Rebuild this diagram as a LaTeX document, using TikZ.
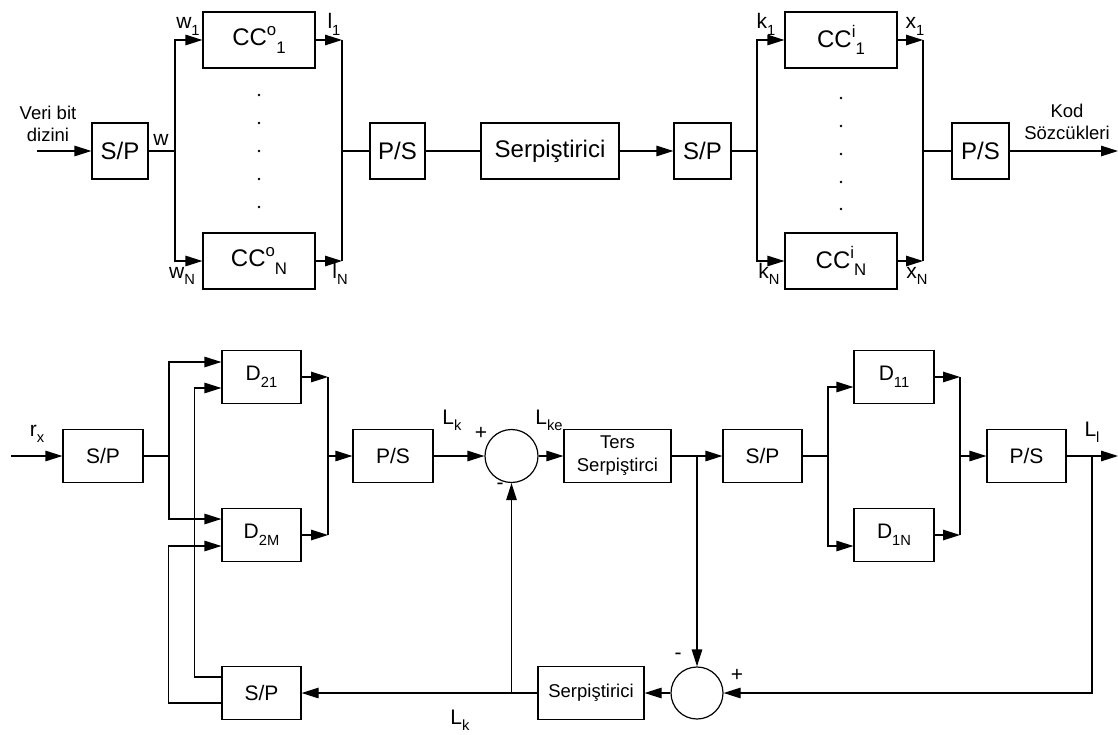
\documentclass[tikz,border=0pt]{standalone}
\usepackage{fontspec}
\setmainfont{Liberation Sans}
\usetikzlibrary{arrows.meta}

\newcommand{\lo}[1]{\raisebox{-0.32em}{\scalebox{0.7}{#1}}}
\newcommand{\hi}[1]{\raisebox{0.42em}{\scalebox{0.7}{#1}}}

\tikzset{
  blk/.style={draw, line width=1.2pt, inner sep=0pt, minimum height=56pt,
    font=\fontsize{24}{28}\selectfont},
  blkb/.style={draw, line width=1.2pt, inner sep=0pt, minimum height=53pt,
    font=\fontsize{21}{25}\selectfont},
  sumc/.style={draw, circle, line width=1.2pt, inner sep=0pt, minimum size=53pt},
  lbl/.style={font=\fontsize{21}{25}\selectfont, inner sep=0pt},
  note/.style={font=\fontsize{18.5}{22}\selectfont, align=center, inner sep=0pt},
  sig/.style={-{Triangle[length=17pt,width=10.5pt]}},
}

\begin{document}
\begin{tikzpicture}[x=1pt, y=-1pt, line width=1.2pt]
  \useasboundingbox (0,0) rectangle (1118,735);

  % upper chain: encoder
  \node[blk, minimum width=56pt]  (sp1)   at (120,151)   {S/P};
  \node[blk, minimum width=112pt] (cco1)  at (259,40)    {CC\hi{o}\lo{1}};
  \node[blk, minimum width=112pt] (ccoN)  at (259,261)   {CC\hi{o}\lo{N}};
  \node[blk, minimum width=55pt]  (ps1)   at (397.5,151) {P/S};
  \node[blk, minimum width=138pt] (serp1) at (550,151)   {Serpiştirici};
  \node[blk, minimum width=57pt]  (sp2)   at (702.5,151) {S/P};
  \node[blk, minimum width=112pt] (cci1)  at (841,40)    {CC\hi{i}\lo{1}};
  \node[blk, minimum width=112pt] (cciN)  at (841,261)   {CC\hi{i}\lo{N}};
  \node[blk, minimum width=57pt]  (ps2)   at (980.5,151) {P/S};

  \coordinate (in1)  at (37,151);
  \coordinate (b1)   at (175,151);
  \coordinate (b2)   at (342,151);
  \coordinate (b2i)  at (757,151);
  \coordinate (b2o)  at (923,151);
  \coordinate (out1) at (1118,151);

  \draw[sig] (in1) -- (sp1);
  \draw (sp1) -- (b1);
  \draw[sig] (b1) |- (cco1.west);
  \draw[sig] (b1) |- (ccoN.west);
  \draw[sig] (cco1.east) -- (cco1.east -| b2);
  \draw[sig] (ccoN.east) -- (ccoN.east -| b2);
  \draw (cco1.east -| b2) -- (ccoN.east -| b2);
  \draw (b2) -- (ps1);
  \draw (ps1) -- (serp1);
  \draw[sig] (serp1) -- (sp2);
  \draw (sp2) -- (b2i);
  \draw[sig] (b2i) |- (cci1.west);
  \draw[sig] (b2i) |- (cciN.west);
  \draw[sig] (cci1.east) -- (cci1.east -| b2o);
  \draw[sig] (cciN.east) -- (cciN.east -| b2o);
  \draw (cci1.east -| b2o) -- (cciN.east -| b2o);
  \draw (b2o) -- (ps2);
  \draw[sig] (ps2) -- (out1);

  \foreach \y in {95,123,151,179,207}
    \fill (259,\y) circle (1.4pt);
  \foreach \y in {98,126,154,182,209}
    \fill (841,\y) circle (1.4pt);

  \node[note] (lveri) at (48,123.5) {Veri bit\\dizini};
  \node[note] (lkod)  at (1067,122) {Kod\\Sözcükleri};
  \node[lbl, anchor=base] (lw)  at (161,146) {w};
  \node[lbl, anchor=base] (lw1) at (188,29)  {w\lo{1}};
  \node[lbl, anchor=base] (lwN) at (182,278) {w\lo{N}};
  \node[lbl, anchor=base] (ll1) at (334,29)  {l\lo{1}};
  \node[lbl, anchor=base] (llN) at (340,278) {l\lo{N}};
  \node[lbl, anchor=base] (lk1) at (766,29)  {k\lo{1}};
  \node[lbl, anchor=base] (lkN) at (769,278) {k\lo{N}};
  \node[lbl, anchor=base] (lx1) at (915,29)  {x\lo{1}};
  \node[lbl, anchor=base] (lxN) at (917,278) {x\lo{N}};

  % lower chain: iterative decoder
  \node[blkb, minimum width=80pt]  (sp3)   at (103,456)    {S/P};
  \node[blkb, minimum width=79pt]  (d21)   at (261.5,377)  {D\lo{21}};
  \node[blkb, minimum width=79pt]  (d2M)   at (261.5,535)  {D\lo{2M}};
  \node[blkb, minimum width=79pt]  (sp4)   at (261.5,693)  {S/P};
  \node[blkb, minimum width=80pt]  (ps3)   at (393,456)    {P/S};
  \node[sumc]                      (sum1)  at (511.5,456)  {};
  \node[blkb, minimum width=107pt, align=center, font=\fontsize{18.5}{23}\selectfont]
                                   (ters)  at (617.5,456)  {Ters\\Serpiştirci};
  \node[blkb, minimum width=79pt]  (sp5)   at (762.5,456)  {S/P};
  \node[blkb, minimum width=80pt]  (d11)   at (894,377)    {D\lo{11}};
  \node[blkb, minimum width=80pt]  (d1N)   at (894,535)    {D\lo{1N}};
  \node[blkb, minimum width=79pt]  (ps4)   at (1026.5,456) {P/S};
  \node[sumc, minimum size=52pt]   (sum2)  at (697,693)    {};
  \node[blkb, minimum width=106pt, font=\fontsize{18.5}{22}\selectfont]
                                   (serp2) at (591,693)    {Serpiştirici};

  \coordinate (in2)  at (11,456);
  \coordinate (b3)   at (169,456);
  \coordinate (b4)   at (328,456);
  \coordinate (b5)   at (697,456);
  \coordinate (b6)   at (828,456);
  \coordinate (b7)   at (960,456);
  \coordinate (b8)   at (1092,456);
  \coordinate (out2) at (1118,456);
  \coordinate (b9)   at (511.5,693);

  \draw[sig] (in2) -- (sp3);
  \draw (sp3) -- (b3);
  \draw[sig] (b3) |- ([yshift=15pt]d21.west);
  \draw[sig] (b3) |- ([yshift=16pt]d2M.west);
  \draw[sig] ([yshift=16pt]sp4.west) -| ([xshift=-27pt,yshift=-11pt]d21.west)
    -- ([yshift=-11pt]d21.west);
  \draw[sig] ([yshift=-10pt]sp4.west) -| ([xshift=-53pt,yshift=-11pt]d2M.west)
    -- ([yshift=-11pt]d2M.west);
  \draw[sig] (d21.east) -- (d21.east -| b4);
  \draw[sig] (d2M.east) -- (d2M.east -| b4);
  \draw (d21.east -| b4) -- (d2M.east -| b4);
  \draw[sig] (b4) -- (ps3);
  \draw[sig] (ps3) -- (sum1);
  \draw[sig] (sum1) -- (ters);
  \draw[sig] (ters) -- (sp5);
  \draw[sig] (b5) -- (sum2);
  \draw (sp5) -- (b6);
  \draw[sig] (b6) |- ([yshift=-10pt]d11.west);
  \draw[sig] (b6) |- ([yshift=-11pt]d1N.west);
  \draw[sig] (d11.east) -- (d11.east -| b7);
  \draw[sig] (d1N.east) -- (d1N.east -| b7);
  \draw (d11.east -| b7) -- (d1N.east -| b7);
  \draw[sig] (b7) -- (ps4);
  \draw[sig] (ps4) -- (out2);
  \draw[sig] (b8) |- (sum2);
  \draw[sig] (sum2) -- (serp2);
  \draw[sig] (serp2) -- (sp4);
  \draw[sig] (b9) -- (sum1);

  \node[lbl, anchor=base] (lrx)  at (37,436)   {r\lo{x}};
  \node[lbl, anchor=base] (lLk)  at (452,424)  {L\lo{k}};
  \node[lbl, anchor=base] (lLke) at (549,424)  {L\lo{ke}};
  \node[lbl, anchor=base] (lLl)  at (1092,436) {L\lo{l}};
  \node[lbl, anchor=base] (lLkb) at (460,724)  {L\lo{k}};
  \node[lbl] (pl1) at (481,433) {+};
  \node[lbl] (mi1) at (500,486) {-};
  \node[lbl] (mi2) at (678,656) {-};
  \node[lbl] (pl2) at (737,675) {+};
\end{tikzpicture}
\end{document}
